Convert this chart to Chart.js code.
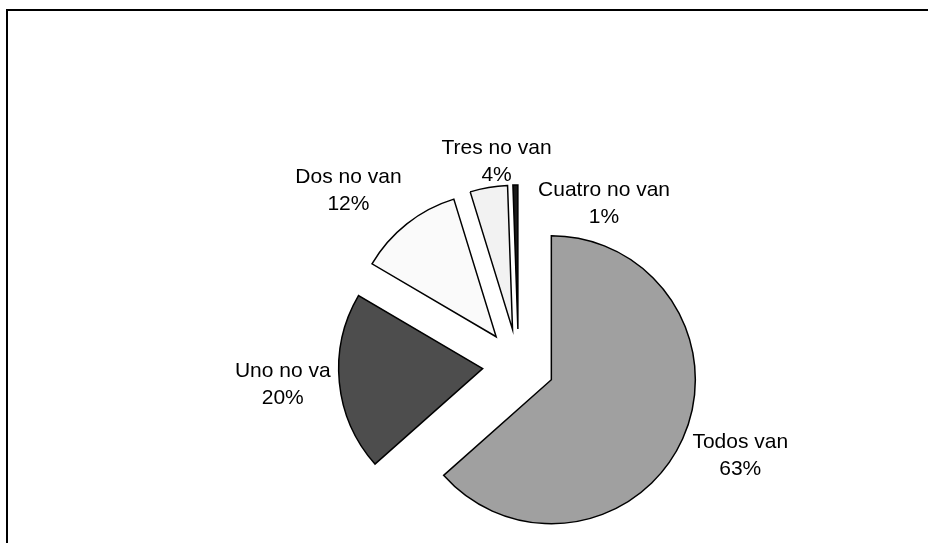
<!DOCTYPE html>
<html><head><meta charset="utf-8">
<script src="https://cdn.jsdelivr.net/npm/chart.js@4.4.1/dist/chart.umd.min.js"></script>
<style>html,body{margin:0;padding:0;background:#fff;} canvas{display:block;}</style>
</head><body>
<canvas id="c" width="928" height="543"></canvas>
<script>
const categories = ['Todos van', 'Uno no va', 'Dos no van', 'Tres no van', 'Cuatro no van'];
const shares = [63.45, 20.0, 11.8, 4.2, 0.55];
const sliceColors = ['#a0a0a0', '#4d4d4d', '#fafafa', '#f2f2f2', '#1a1a1a'];

const EXPLODE = 36;
const LABEL_GAP = 12;
const FONT_PX = 21;
const LINE_GAP = 27;
const labelNudge = [[3, 2], [3, -3], [-18, -9], [19, 5], [90, 50]];

const explodePlugin = {
  id: 'explode',
  beforeDatasetDraw(chart, args) {
    const ctx = chart.ctx;
    args.meta.data.forEach(arc => {
      const mid = (arc.startAngle + arc.endAngle) / 2;
      ctx.save();
      ctx.translate(Math.cos(mid) * EXPLODE, Math.sin(mid) * EXPLODE);
      arc.draw(ctx);
      ctx.restore();
    });
    return false;
  }
};

const labelPlugin = {
  id: 'sliceLabels',
  afterDatasetsDraw(chart) {
    const ctx = chart.ctx;
    const meta = chart.getDatasetMeta(0);
    const vals = chart.data.datasets[0].data;
    const total = vals.reduce((a, b) => a + b, 0);
    ctx.save();
    ctx.font = FONT_PX + 'px "Liberation Sans", Arial, sans-serif';
    ctx.fillStyle = '#000';
    ctx.textAlign = 'center';
    ctx.textBaseline = 'alphabetic';
    meta.data.forEach((arc, i) => {
      const mid = (arc.startAngle + arc.endAngle) / 2;
      const ux = Math.cos(mid), uy = Math.sin(mid);
      const ax = arc.x + ux * EXPLODE, ay = arc.y + uy * EXPLODE;
      const line1 = chart.data.labels[i];
      const line2 = Math.round(vals[i] / total * 100) + '%';
      const w = Math.max(ctx.measureText(line1).width, ctx.measureText(line2).width);
      const h = LINE_GAP + FONT_PX * 0.716;
      const r = arc.outerRadius + LABEL_GAP;
      const cx = ax + ux * r + ux * w / 2 + labelNudge[i][0];
      const cy = ay + uy * r + uy * h / 2 + labelNudge[i][1];
      const capHalf = FONT_PX * 0.358;
      ctx.fillText(line1, cx, cy - LINE_GAP / 2 + capHalf);
      ctx.fillText(line2, cx, cy + LINE_GAP / 2 + capHalf);
    });
    ctx.restore();
  }
};

const framePlugin = {
  id: 'frame',
  afterDraw(chart) {
    const ctx = chart.ctx;
    ctx.save();
    ctx.strokeStyle = '#000';
    ctx.lineWidth = 2;
    ctx.strokeRect(7, 10, 2000, 2000);
    ctx.restore();
  }
};

new Chart(document.getElementById('c'), {
  type: 'pie',
  data: {
    labels: categories,
    datasets: [{
      data: shares,
      backgroundColor: sliceColors,
      borderColor: '#000',
      borderWidth: 1.5,
      borderJoinStyle: 'miter',
      offset: 0,
      hoverOffset: 0
    }]
  },
  options: {
    responsive: false,
    animation: false,
    events: [],
    radius: 144,
    layout: { padding: { left: 368.5, right: 259.5, top: 215, bottom: 28 } },
    plugins: { legend: { display: false }, tooltip: { enabled: false } }
  },
  plugins: [explodePlugin, labelPlugin, framePlugin]
});
</script>
</body></html>
